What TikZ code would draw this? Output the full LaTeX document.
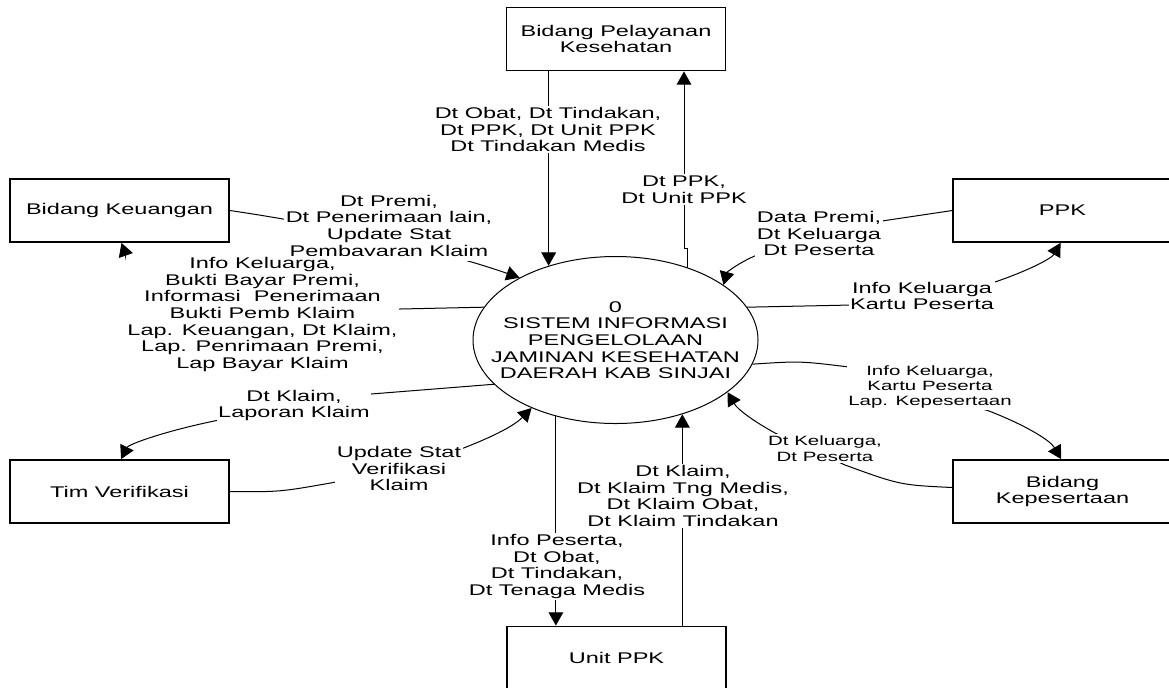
\documentclass[tikz,border=0pt]{standalone}
\usepackage{fontspec}
\setmainfont{Liberation Sans}[FakeStretch=1.52]
\usetikzlibrary{arrows.meta,shapes.geometric}
\newcommand\dfdmain{\fontsize{11.6pt}{12.5pt}\selectfont}
\newcommand\dfdsmall{\fontsize{10.1pt}{11.6pt}\selectfont}
\begin{document}
\begin{tikzpicture}[x=0.75pt,y=-0.75pt,
  box/.style={draw, line width=1.1pt, minimum width=164.25pt, minimum height=47.5pt, inner sep=0pt, align=center, font=\dfdmain},
  lbl/.style={fill=white, inner sep=1.2pt, align=center, font=\dfdmain},
  slbl/.style={fill=white, inner sep=1.2pt, align=center, font=\dfdsmall},
  arr/.style={line width=0.75pt, -{Triangle[length=10pt,width=11pt]}}]
\path[clip] (0,0) rectangle (1169,687);
\fill[white] (0,0) rectangle (1169,687);

% external entities
\node[box] (bpk) at (616,39) {Bidang Pelayanan\\Kesehatan};
\node[box] (keu) at (119.5,210.5) {Bidang Keuangan};
\node[box] (ppk) at (1062.5,210.5) {PPK};
\node[box] (tim) at (119.5,491.5) {Tim Verifikasi};
\node[box] (kep) at (1062.5,491.5) {Bidang\\Kepesertaan};
\node[box] (unit) at (616.5,658) {Unit PPK};

% process
\node[draw, ellipse, line width=0.75pt, minimum width=213.75pt, minimum height=125.25pt, inner sep=0pt] (sys) at (615.5,340) {};
\node[align=center, font=\dfdmain] (systxt) at (sys.center) {0\\SISTEM INFORMASI\\PENGELOLAAN\\JAMINAN KESEHATAN\\DAERAH KAB SINJAI};

% connectors
\draw[arr] (bpk.south -| sys.132.6) -- (sys.132.6);
\coordinate (j2) at (684,248);
\draw[arr] (sys.45.8) -- (sys.45.8 |- j2) -- (j2) -- (j2 |- bpk.south);
\draw[arr] (keu.east) .. controls (330,225) and (440,250) .. (sys.147.1);
\draw[arr] (sys.166.8) -- (400,309) .. controls (250,309) and (128,292) .. (127,264) .. controls (125,253) .. ([xshift=1.5pt]keu.south);
\draw[arr] (sys.200.2) -- (371,394) -- (219,420) .. controls (160,432) and (128,445) .. ([xshift=1.2pt]tim.north);
\draw[arr] (tim.east) .. controls (280,492) .. (336,482) -- (461,449) .. controls (495,436) and (515,425) .. (sys.219.2);
\draw[arr] (sys.232.4) -- (sys.232.4 |- unit.north);
\draw[arr] (unit.north -| sys.312.6) -- (sys.312.6);
\draw[arr] (sys.350.9) .. controls (800,361) .. (849,367) -- (989,411) .. controls (1025,425) and (1050,440) .. ([xshift=-1pt]kep.north);
\draw[arr] ([yshift=3pt]kep.west) .. controls (900,485) .. (845,465) -- (775,433) .. controls (755,422) and (738,410) .. (sys.335);
\draw[arr] (ppk.west) -- (882,221) -- (757,255) .. controls (740,262) and (727,272) .. (sys.27.1);
\draw[arr] (sys.14.6) -- (852,305) -- (995,282) .. controls (1030,270) and (1052,258) .. ([xshift=-1.5pt]ppk.south);

% labels
\node[lbl] (l1) at (548,129.5) {Dt Obat, Dt Tindakan,\\Dt PPK, Dt Unit PPK\\Dt Tindakan Medis};
\node[lbl] (l2) at (684,189.5) {Dt PPK,\\Dt Unit PPK};
\node[lbl] (l3) at (389,227) {Dt Premi,\\Dt Penerimaan lain,\\Update Stat\\Pembayaran Klaim};
\node[lbl] (l4) at (262.5,314.5) {Info Keluarga,\\Bukti Bayar Premi,\\Informasi\ \ Penerimaan\\Bukti Pemb Klaim\\Lap. Keuangan, Dt Klaim,\\Lap. Penrimaan Premi,\\Lap Bayar Klaim};
\node[lbl] (l5) at (294,405.5) {Dt Klaim,\\Laporan Klaim};
\node[lbl] (l6) at (399,468.5) {Update Stat\\Verifikasi\\Klaim};
\node[lbl] (l7) at (557,566.5) {Info Peserta,\\Dt Obat,\\Dt Tindakan,\\Dt Tenaga Medis};
\node[lbl] (l8) at (683,496) {Dt Klaim,\\Dt Klaim Tng Medis,\\Dt Klaim Obat,\\Dt Klaim Tindakan};
\node[slbl] (l9) at (930,387) {Info Keluarga,\\Kartu Peserta\\Lap. Kepesertaan};
\node[slbl] (l10) at (825,448.5) {Dt Keluarga,\\Dt Peserta};
\node[lbl] (l11) at (819,233.5) {Data Premi,\\Dt Keluarga\\Dt Peserta};
\node[lbl] (l12) at (922,296) {Info Keluarga\\Kartu Peserta};
\end{tikzpicture}
\end{document}
